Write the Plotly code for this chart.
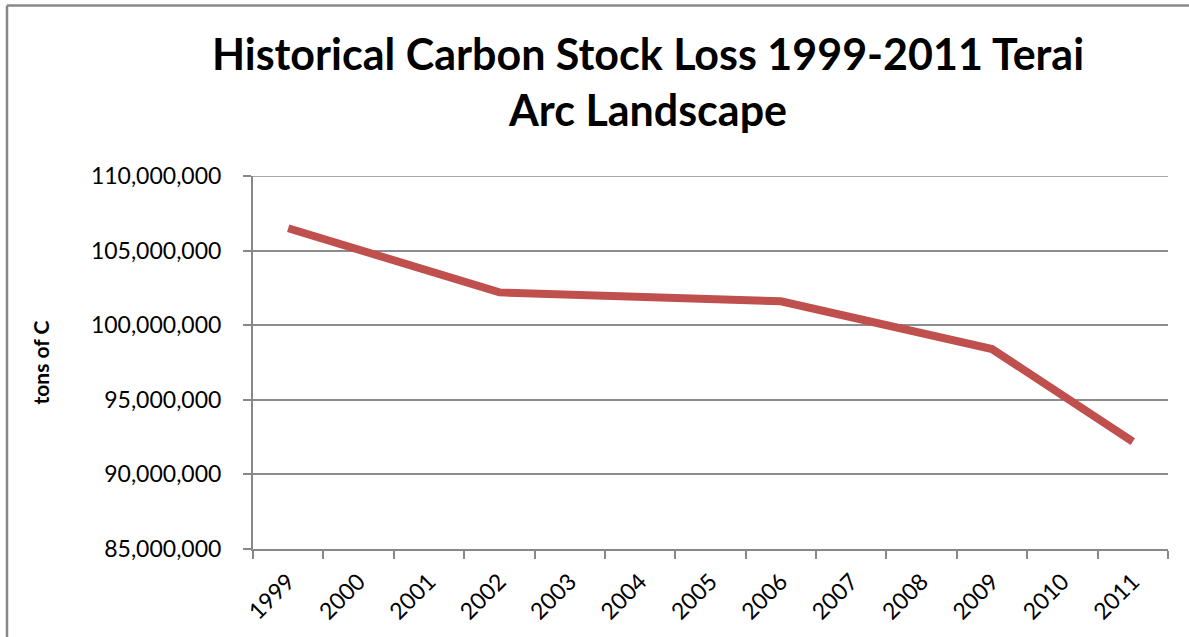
import plotly.graph_objects as go

years = ["1999", "2000", "2001", "2002", "2003", "2004", "2005", "2006",
         "2007", "2008", "2009", "2010", "2011"]
carbon = [106500000, None, None, 102200000, None, None, None, 101600000,
          None, None, 98400000, None, 92200000]
ytick_vals = [85000000, 90000000, 95000000, 100000000, 105000000, 110000000]

W, H = 1189, 637
L, R, T, B = 253, 21, 176, 88
pw, ph = W - L - R, H - T - B

def px(x):
    return (x - L) / pw

def py(y):
    return (H - B - y) / ph

fig = go.Figure()
fig.add_trace(go.Scatter(
    x=years, y=carbon, mode="lines", connectgaps=True,
    line=dict(color="#C0504D", width=8), hoverinfo="skip"))

font_family = "Lato, Carlito, Calibri, sans-serif"
fig.update_layout(
    width=W, height=H,
    margin=dict(l=L, r=R, t=T, b=B),
    paper_bgcolor="white", plot_bgcolor="white",
    showlegend=False,
    font=dict(family=font_family, color="black"),
    title=dict(text="<b>Historical Carbon Stock Loss 1999-2011 Terai<br>Arc Landscape</b>",
               x=648 / W, xref="container", xanchor="center",
               y=1 - 70 / H, yref="container", yanchor="middle",
               font=dict(size=43, family=font_family)),
    xaxis=dict(type="category", categoryorder="array", categoryarray=years,
               tickson="boundaries", ticks="outside", ticklen=8, tickwidth=2,
               tickcolor="#888888", showline=True, linecolor="#888888", linewidth=2,
               showgrid=False, tickangle=-45, tickfont=dict(size=23),
               ticklabelstandoff=8, range=[-0.5, 12.5]),
    yaxis=dict(range=[85000000, 110000000], tickvals=ytick_vals,
               tickformat=",d", ticks="outside", ticklen=8, tickwidth=2,
               tickcolor="#888888", showline=True, linecolor="#888888", linewidth=2,
               showgrid=True, gridcolor="#8c8c8c", gridwidth=1.5,
               tickfont=dict(size=23), ticklabelstandoff=17,
               title=dict(text="<b>tons of C</b>", font=dict(size=21), standoff=36),
               zeroline=False),
)

# top gridline at the upper range limit
fig.add_shape(type="line", xref="paper", yref="y",
              x0=0, x1=1, y0=ytick_vals[-1], y1=ytick_vals[-1],
              line=dict(color="#8c8c8c", width=1.5))

# outer chart-area border (left and top visible)
fig.add_shape(type="line", xref="paper", yref="paper",
              x0=px(7), x1=px(7), y0=py(5.5), y1=py(H + 5),
              line=dict(color="#888888", width=2.5))
fig.add_shape(type="line", xref="paper", yref="paper",
              x0=px(7), x1=px(W + 5), y0=py(5.5), y1=py(5.5),
              line=dict(color="#888888", width=2.5))

fig.write_html("out.html", config={"displayModeBar": False},
               post_script="document.body.style.margin='0';")
